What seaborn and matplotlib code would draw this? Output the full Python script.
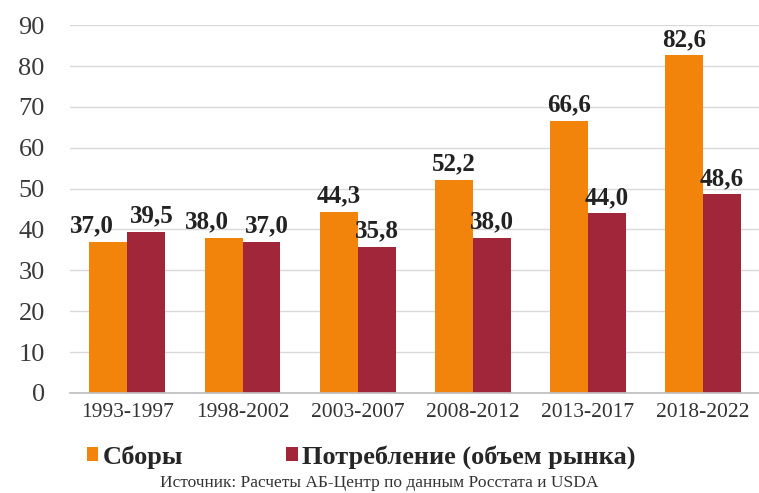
import matplotlib
matplotlib.use("Agg")
import matplotlib.pyplot as plt
import seaborn as sns
import pandas as pd
from matplotlib.patches import Patch

periods = ["1993-1997", "1998-2002", "2003-2007", "2008-2012", "2013-2017", "2018-2022"]
harvest = [37.0, 38.0, 44.3, 52.2, 66.6, 82.6]
consumption = [39.5, 37.0, 35.8, 38.0, 44.0, 48.6]
series_names = ["Сборы", "Потребление (объем рынка)"]
colors = ["#F3840B", "#A2263A"]
yticks = [0, 10, 20, 30, 40, 50, 60, 70, 80, 90]
source = "Источник: Расчеты АБ-Центр по данным Росстата и USDA"

df = pd.DataFrame({
    "period": periods * 2,
    "value": harvest + consumption,
    "series": [series_names[0]] * len(periods) + [series_names[1]] * len(periods),
})

sns.set_theme(style="white")
plt.rcParams['font.family'] = ['Liberation Serif', 'DejaVu Serif']

fig = plt.figure(figsize=(7.59, 4.93), dpi=100)
ax = fig.add_axes([0.092, 0.203, 0.91, 0.746])

sns.barplot(data=df, x="period", y="value", hue="series", palette=colors,
            width=0.66, saturation=1, ax=ax, legend=False, edgecolor="none")

# value labels; nudge apart the pairs whose labels would collide
label_sets = []
for cont in ax.containers:
    labels = [f"{v:.1f}".replace(".", ",") for v in cont.datavalues]
    label_sets.append(ax.bar_label(cont, labels=labels, padding=3, fontsize=18,
                                   fontweight="bold", color="#222222"))
for i in range(len(periods)):
    if abs(harvest[i] - consumption[i]) < 5:
        t0, t1 = label_sets[0][i], label_sets[1][i]
        t0.set_position((t0.get_position()[0] - 12, t0.get_position()[1]))
        t1.set_position((t1.get_position()[0] + 4, t1.get_position()[1]))

ax.set_ylim(0, 90)
ax.set_yticks(yticks)
ax.set_yticklabels([str(t) for t in yticks], fontsize=19, color="#3A3A3A")
ax.tick_params(axis="y", length=0, pad=18)
ax.tick_params(axis="x", length=0, labelsize=15.5, labelcolor="#333333", pad=7)
ax.set_xlabel("")
ax.set_ylabel("")
ax.yaxis.grid(True, color="#D9D9D9", linewidth=1)
ax.set_axisbelow(True)
for s in ["top", "right", "left"]:
    ax.spines[s].set_visible(False)
ax.spines["bottom"].set_color("#BFBFBF")

handles = [Patch(facecolor=c, edgecolor="none") for c in colors]
fig.legend(handles, series_names, loc="center left", bbox_to_anchor=(0.114, 0.073),
           ncol=2, frameon=False, borderpad=0, borderaxespad=0,
           prop={"family": "Liberation Serif", "weight": "bold", "size": 19},
           handlelength=0.45, handleheight=0.45, handletextpad=0.15, columnspacing=3.9)

fig.text(0.5, 0.02, source, ha="center", va="center", fontsize=12.5, color="#333333")

fig.savefig("out.png", dpi=100)
